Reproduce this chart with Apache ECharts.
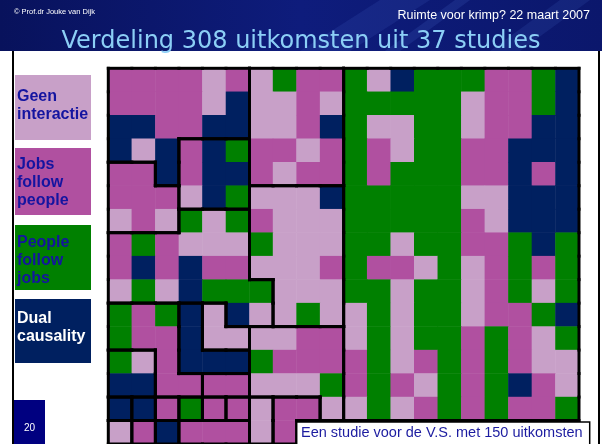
<!DOCTYPE html>
<html lang="nl">
<head>
<meta charset="UTF-8">
<title>Verdeling 308 uitkomsten uit 37 studies</title>
<script src="https://cdn.jsdelivr.net/npm/echarts@6/dist/echarts.min.js"></script>
<style>
    html, body { margin: 0; padding: 0; background: #fff; }
    #main { width: 602px; height: 444px; }
</style>
</head>
<body>
<div id="main"></div>
<script>
// legend categories, index = colour code used in the grid
var categories = ['Geen interactie', 'Jobs follow people', 'People follow jobs', 'Dual causality'];
var legendLines = [['Geen', 'interactie'], ['Jobs', 'follow', 'people'], ['People', 'follow', 'jobs'], ['Dual', 'causality']];
var colors = ['#c8a0c8', '#b050a0', '#008000', '#002060'];

// one letter per outcome: L = geen interactie, M = jobs follow people, G = people follow jobs, D = dual causality
var cellRows = [
    'MMMMLMLGMM GLDGGGMMGD',
    'MMMMLDLLML GGGGGLMMGD',
    'DDMMDDLLMD GLLGGLMMDD',
    'DLDMDGMMLM GMLGGMMDDD',
    'MMDMDDMLMM GMGGGMMDMD',
    'MMMLDGLLLD GGGGGLLDDD',
    'LMLGLGMLLL GGGGGMLDDD',
    'MGMLLLGLLL GGLGGMMGDG',
    'MDMDMMLLLM GMMLGLMGMG',
    'LGLDGGGLLL GGLGGLMGLG',
    'GMGDLDLLGL LGLGGLMMGD',
    'GMMDLLLLMM LGLGGMGMLG',
    'GLMDDDGMMM MGLMGMGMLL',
    'DDMMMMLLLG MGMLGMGDML',
    'DDMGMMLMML LGLMGMGMMG',
    'LMDMMMLM.. ..........'
];
// which study each outcome belongs to (thick lines are drawn between studies)
var studyRows = [
    'AAAAAADDDD ZZZZZZZZZZ',
    'AAAAAADDDD ZZZZZZZZZZ',
    'AAAAAADDDD ZZZZZZZZZZ',
    'AAACCCDDDD ZZZZZZZZZZ',
    'BBACCCDDDD ZZZZZZZZZZ',
    'BBBCCCFFFF ZZZZZZZZZZ',
    'BBBEEEFFFF ZZZZZZZZZZ',
    'EEEEEEFFFF ZZZZZZZZZZ',
    'EEEEEEFFFF ZZZZZZZZZZ',
    'EEEEEEEFFF ZZZZZZZZZZ',
    'HHHJKEEFFF ZZZZZZZZZZ',
    'HHHJKKLLLL ZZZZZZZZZZ',
    'IIHJJJLLLL ZZZZZZZZZZ',
    'IIHHMMLLLL ZZZZZZZZZZ',
    'PQRSTUVWWL ZZZZZZZZZZ',
    'abcdddVW.. ..........'
];
var noteText = 'Een studie voor de V.S. met 150 uitkomsten';

var cells = cellRows.map(function (s) { return s.replace(/ /g, ''); });
var studies = studyRows.map(function (s) { return s.replace(/ /g, ''); });
var nRows = cells.length, nCols = cells[0].length;
var codeOf = { L: 0, M: 1, G: 2, D: 3 };

function studyAt(c, r) {
    if (r < 0 || r >= nRows || c < 0 || c >= nCols) return '.';
    return studies[r][c];
}

var colIdx = [], rowIdx = [];
for (var i = 0; i < nCols; i++) colIdx.push(String(i));
for (var j = 0; j < nRows; j++) rowIdx.push(String(j));

var heatData = [], edgeData = [];
for (var r = 0; r < nRows; r++) {
    for (var c = 0; c < nCols; c++) {
        var ch = cells[r][c];
        if (ch === '.') continue;
        heatData.push([c, r, codeOf[ch]]);
        var s = studyAt(c, r);
        edgeData.push([c, r,
            studyAt(c, r - 1) !== s ? 1 : 0,
            studyAt(c + 1, r) !== s ? 1 : 0,
            studyAt(c, r + 1) !== s ? 1 : 0,
            studyAt(c - 1, r) !== s ? 1 : 0]);
    }
}

var chart = echarts.init(document.getElementById('main'));

// slide decoration: header, side legend, page number, note box
var graphics = [
    {
        type: 'rect', z: -5, shape: { x: 0, y: 0, width: 602, height: 51 },
        style: {
            fill: new echarts.graphic.LinearGradient(0, 0, 1, 0, [
                { offset: 0, color: '#08125c' },
                { offset: 0.5, color: '#0e1c7c' },
                { offset: 1, color: '#0b176c' }
            ])
        }
    },
    { type: 'polygon', z: -4, shape: { points: [[380, 0], [430, 0], [350, 51], [300, 51]] }, style: { fill: 'rgba(90,130,230,0.12)' } },
    { type: 'polygon', z: -4, shape: { points: [[455, 0], [470, 0], [400, 51], [385, 51]] }, style: { fill: 'rgba(90,130,230,0.15)' } },
    { type: 'polygon', z: -4, shape: { points: [[560, 0], [590, 0], [520, 51], [490, 51]] }, style: { fill: 'rgba(90,130,230,0.12)' } },
    { type: 'rect', z: -4, shape: { x: 12, y: 51, width: 2, height: 393 }, style: { fill: '#000' } },
    { type: 'rect', z: -4, shape: { x: 598, y: 51, width: 2, height: 393 }, style: { fill: '#000' } },
    {
        type: 'text', left: 14, top: 8,
        style: { text: '\u00a9 Prof.dr Jouke van Dijk', fill: '#fff', font: '7.5px "Liberation Sans", Arial' }
    },
    {
        type: 'text', right: 12, top: 9,
        style: { text: 'Ruimte voor krimp? 22 maart 2007', fill: '#fff', font: '12.5px "Liberation Sans", Arial' }
    },
    { type: 'rect', z: -4, shape: { x: 14, y: 400, width: 31, height: 44 }, style: { fill: '#000080' } },
    { type: 'text', left: 24, top: 423, style: { text: '20', fill: '#fff', font: '10px "Liberation Sans", Arial' } },
    { type: 'rect', z: 10, shape: { x: 296.7, y: 421.9, width: 293, height: 30 }, style: { fill: '#fff', stroke: '#000', lineWidth: 1.5 } },
    { type: 'text', z: 11, left: 301, top: 425, style: { text: noteText, fill: '#1c1ca0', font: '14.5px "Liberation Sans", Arial' } }
];

var boxTops = [75, 148, 225, 299], boxHeights = [65, 67, 65, 64], textTops = [88, 156, 234, 310];
categories.forEach(function (name, k) {
    graphics.push({ type: 'rect', z: -3, shape: { x: 15, y: boxTops[k], width: 76, height: boxHeights[k] }, style: { fill: colors[k] } });
    graphics.push({
        type: 'text', z: -2, left: 17, top: textTops[k],
        style: {
            text: legendLines[k].join('\n'), fill: k === 3 ? '#fff' : '#1414a0',
            font: 'bold 16px "Liberation Sans", Arial', lineHeight: 18
        }
    });
});

var option = {
    animation: false,
    title: {
        text: 'Verdeling 308 uitkomsten uit 37 studies',
        left: 'center', top: 25,
        textStyle: { color: '#8ccff6', fontSize: 24, fontWeight: 'normal', fontFamily: 'DejaVu Sans' }
    },
    grid: { left: 108.3, top: 68.3, width: 470.7, height: 377.1 },
    xAxis: { type: 'category', data: colIdx, show: false },
    yAxis: { type: 'category', data: rowIdx, inverse: true, show: false },
    visualMap: {
        type: 'piecewise', show: false, dimension: 2,
        pieces: categories.map(function (name, k) { return { value: k, color: colors[k], label: name }; })
    },
    graphic: graphics,
    series: [
        { type: 'heatmap', data: heatData, silent: true },
        {
            type: 'custom', data: edgeData, encode: { x: 0, y: 1 }, z: 5, silent: true,
            renderItem: function (params, api) {
                var p = api.coord([api.value(0), api.value(1)]);
                var sz = api.size([1, 1]);
                var x0 = p[0] - sz[0] / 2, x1 = p[0] + sz[0] / 2;
                var y0 = p[1] - sz[1] / 2, y1 = p[1] + sz[1] / 2;
                var segs = [[x0, y0, x1, y0], [x1, y0, x1, y1], [x0, y1, x1, y1], [x0, y0, x0, y1]];
                var children = [];
                for (var k = 0; k < 4; k++) {
                    if (!api.value(2 + k)) continue;
                    var g = segs[k];
                    children.push({
                        type: 'line',
                        shape: { x1: g[0], y1: g[1], x2: g[2], y2: g[3] },
                        style: { stroke: '#000', lineWidth: 3, lineCap: 'square' }
                    });
                }
                return { type: 'group', children: children };
            }
        }
    ]
};

chart.setOption(option);
</script>
</body>
</html>
